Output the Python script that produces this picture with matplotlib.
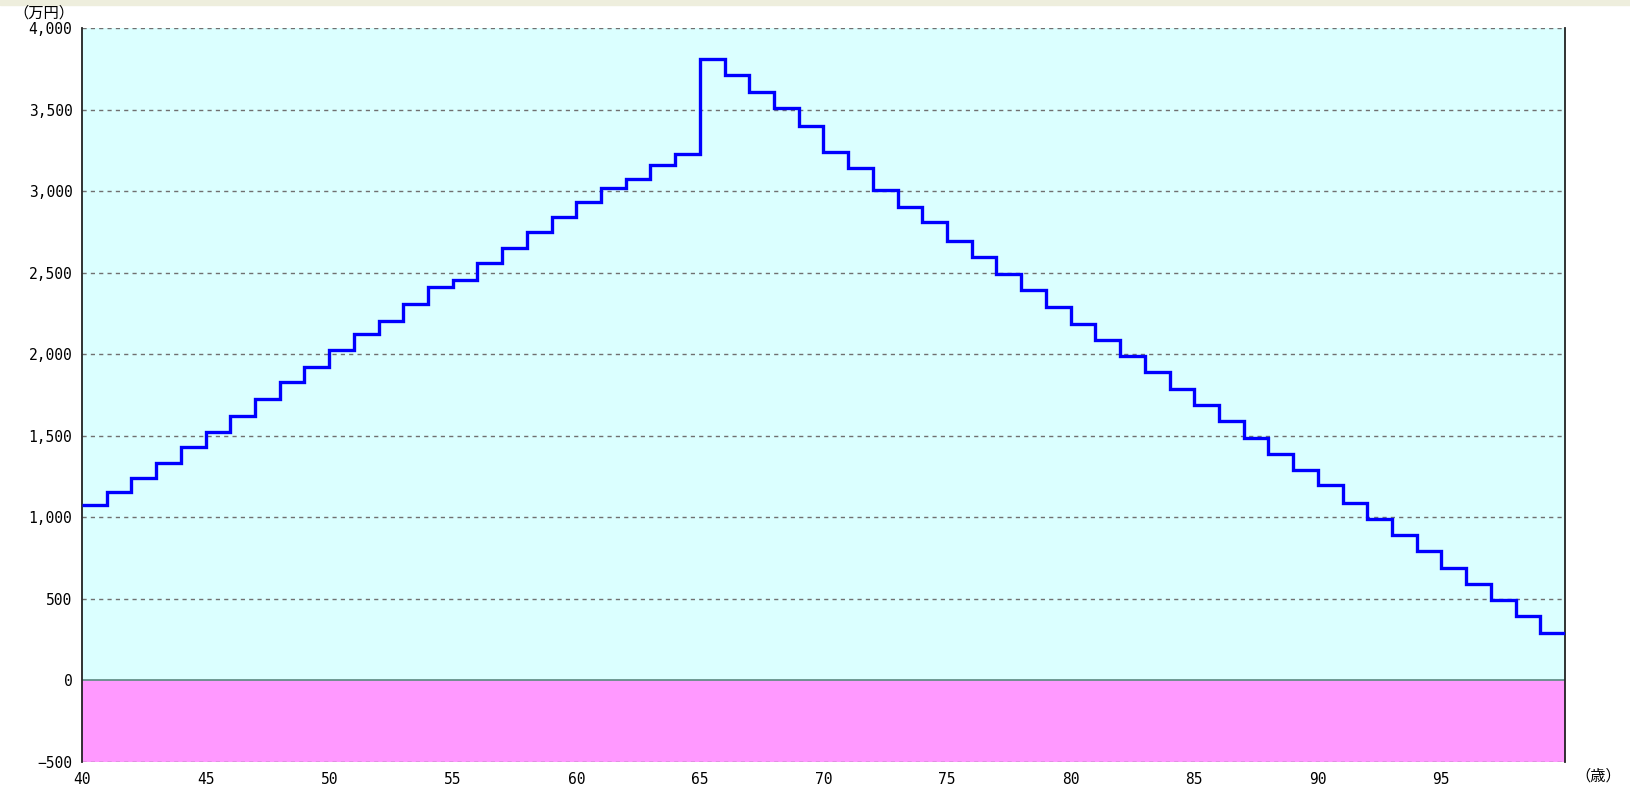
import numpy as np
import matplotlib
matplotlib.use("Agg")
import matplotlib.pyplot as plt

plt.rcParams['font.family'] = ['Noto Sans CJK JP', 'DejaVu Sans']

# age at start of each step (40 .. 99), balance in 万円
ages = np.arange(40, 101)
balance = [1075, 1157, 1240, 1330, 1432, 1521, 1623, 1725, 1827, 1923,
           2025, 2127, 2203, 2305, 2413, 2458, 2560, 2649, 2751, 2840,
           2936, 3019, 3076, 3159, 3229, 3809, 3713, 3605, 3509, 3400,
           3241, 3139, 3005, 2903, 2808, 2693, 2598, 2489, 2394, 2292,
           2184, 2088, 1992, 1890, 1789, 1687, 1591, 1489, 1387, 1291,
           1196, 1087, 992, 890, 794, 692, 590, 495, 393, 291]

yticks = np.arange(-500, 4001, 500)
xticks = np.arange(40, 96, 5)

fig = plt.figure(figsize=(16.31, 7.87), dpi=100)
fig.patches.append(plt.Rectangle((0, 0.9935), 1, 0.0065, transform=fig.transFigure,
                                 color='#EEEEDD', zorder=0))
ax = fig.add_axes([0.0503, 0.0318, 0.9092, 0.9326])

ax.axhspan(0, 4000, color='#DBFFFF', zorder=0)
ax.axhspan(-500, 0, color='#FF99FF', zorder=0)
for y in yticks:
    if y != 0:
        ax.axhline(y, color='#707070', lw=1, ls=(0, (3, 3)), zorder=1)
ax.axhline(0, color='#5a8c80', lw=1.2, zorder=1)

ax.stairs(balance, ages, baseline=None, color='#0000FF', lw=2.4, zorder=3)

ax.set_xlim(40, 100)
ax.set_ylim(-500, 4000)
ax.set_xticks(xticks)
ax.set_yticks(yticks)
ax.set_yticklabels([f"{v:,}".replace("-", "\u2212") for v in yticks])
ax.tick_params(length=0, labelsize=10.5, pad=7)
for lab in ax.get_xticklabels() + ax.get_yticklabels():
    lab.set_family('DejaVu Sans Mono')

for s in ['top', 'bottom']:
    ax.spines[s].set_visible(False)
ax.spines['left'].set_color('#222222')
ax.spines['right'].set_color('#222222')
ax.spines['left'].set_linewidth(1.3)
ax.spines['right'].set_linewidth(1.3)

fig.text(0.008, 0.984, "（万円）", fontsize=11, va='center', ha='left')
fig.text(0.994, 0.014, "（歳）", fontsize=11, va='center', ha='right')

fig.savefig("out.png", dpi=100)
